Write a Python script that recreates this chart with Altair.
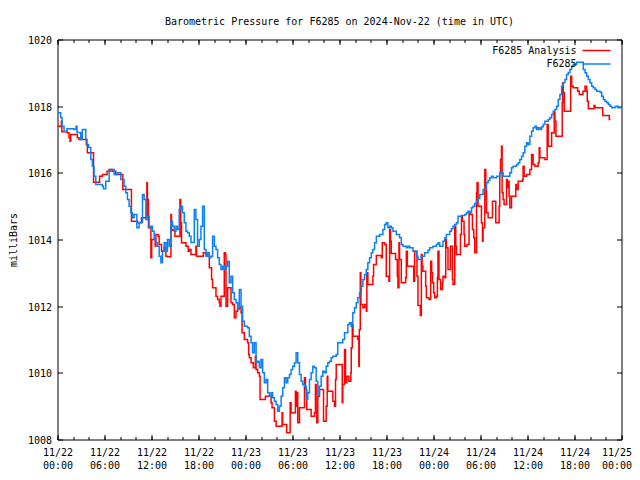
import altair as alt
import pandas as pd

title_text = "Barometric Pressure for F6285 on 2024-Nov-22 (time in UTC)"
y_title = "milliBars"
series_names = ["F6285 Analysis", "F6285"]
series_colors = ["#ff0000", "#0a80f5"]

x_major = [0, 6, 12, 18, 24, 30, 36, 42, 48, 54, 60, 66, 72]
x_minor = list(range(0, 73, 2))
y_ticks = [1008, 1010, 1012, 1014, 1016, 1018, 1020]

# F6285 Analysis (hours since 2024-11-22 00:00 UTC, millibars)
analysis_hours = [
    0.00, 0.49, 0.55, 1.25, 1.47, 1.60, 1.69, 2.53, 2.75, 3.68, 3.81, 4.60, 5.37, 5.73, 6.33, 6.59,
    6.97, 7.44, 8.34, 9.44, 10.21, 10.72, 11.41, 11.48, 11.61, 11.92, 12.02, 12.47, 12.56, 12.85, 12.98,
    13.28, 13.62, 13.84, 14.04, 14.48, 14.55, 14.68, 14.99, 15.63, 15.73, 15.83, 16.40, 16.69, 16.82,
    17.04, 17.67, 17.75, 18.61, 18.95, 19.38, 19.67, 19.80, 20.23, 20.44, 20.65, 20.74, 20.87, 21.29,
    21.42, 21.51, 21.72, 22.15, 22.36, 22.57, 22.79, 23.00, 23.43, 23.56, 23.85, 24.27, 24.40, 24.49,
    24.71, 25.00, 25.26, 25.35, 25.55, 25.77, 25.86, 26.54, 27.27, 27.39, 27.69, 27.91, 28.67, 28.75,
    29.26, 29.70, 29.82, 30.37, 30.46, 30.57, 30.67, 30.89, 31.53, 31.65, 31.82, 32.38, 32.80, 32.93,
    33.02, 33.10, 33.23, 33.44, 33.96, 34.30, 34.43, 34.51, 35.15, 35.36, 35.49, 35.58, 36.35, 36.42,
    36.64, 36.77, 36.94, 37.19, 37.45, 37.50, 37.63, 37.73, 38.34, 38.47, 38.53, 38.65, 38.73, 38.98,
    39.20, 39.42, 39.49, 39.62, 40.26, 40.35, 40.70, 41.33, 41.46, 41.76, 41.97, 42.31, 42.40, 42.52,
    42.61, 43.16, 43.38, 43.46, 43.59, 43.67, 43.89, 44.44, 44.53, 44.66, 45.47, 45.59, 45.89, 46.02,
    46.32, 46.45, 46.55, 46.65, 47.00, 47.09, 47.42, 47.64, 47.77, 47.86, 48.02, 48.15, 48.37, 48.50,
    48.57, 48.70, 48.92, 49.14, 49.21, 49.43, 49.56, 49.65, 49.85, 50.16, 50.42, 50.49, 50.71, 50.84,
    50.93, 51.44, 51.57, 51.69, 51.90, 51.99, 52.28, 52.54, 52.63, 52.97, 53.14, 53.27, 53.49, 53.56,
    53.69, 54.12, 54.25, 54.33, 54.55, 54.67, 54.76, 54.97, 55.53, 55.95, 56.38, 56.46, 56.55, 56.68,
    56.76, 56.89, 57.01, 57.32, 57.42, 57.53, 57.65, 57.74, 57.96, 58.51, 58.60, 58.81, 59.37, 59.44,
    59.57, 59.88, 60.30, 60.52, 60.72, 60.94, 61.36, 61.49, 61.58, 62.22, 62.51, 62.64, 63.08, 63.41,
    63.50, 63.63, 64.43, 64.48, 64.56, 64.69, 65.51, 65.64, 65.84, 66.40, 66.61, 67.08, 67.34, 67.55,
    67.63, 67.76, 68.49, 68.62, 69.60, 70.44, 70.60,
]
analysis_mbar = [
    1017.40, 1017.55, 1017.23, 1017.20, 1017.05, 1016.95, 1017.15, 1017.05, 1017.00, 1016.85, 1016.60,
    1015.72, 1015.90, 1015.95, 1016.05, 1016.10, 1016.05, 1015.95, 1015.50, 1014.55, 1014.50, 1014.65,
    1015.70, 1015.20, 1014.35, 1013.45, 1014.00, 1013.80, 1014.15, 1014.10, 1013.85, 1013.65, 1013.75,
    1013.50, 1013.48, 1014.75, 1014.30, 1014.28, 1014.10, 1015.20, 1014.50, 1013.90, 1013.80, 1013.65,
    1013.70, 1013.55, 1013.80, 1013.50, 1013.60, 1013.55, 1013.15, 1012.80, 1012.55, 1012.30, 1012.20,
    1012.10, 1012.00, 1012.30, 1013.60, 1013.55, 1012.00, 1012.55, 1012.10, 1012.05, 1011.65, 1011.85,
    1011.95, 1011.80, 1011.20, 1011.00, 1010.90, 1010.55, 1010.45, 1010.30, 1010.15, 1010.50, 1010.10,
    1010.00, 1009.90, 1009.20, 1009.30, 1009.10, 1008.95, 1008.55, 1008.40, 1008.80, 1008.45, 1008.20,
    1009.10, 1008.80, 1009.45, 1009.00, 1009.40, 1008.50, 1008.95, 1009.85, 1009.50, 1008.90, 1008.70,
    1008.80, 1009.65, 1008.80, 1008.50, 1009.30, 1009.50, 1008.55, 1009.00, 1009.90, 1009.45, 1009.15,
    1009.00, 1009.80, 1010.25, 1009.10, 1009.65, 1010.70, 1009.70, 1009.90, 1009.75, 1010.00, 1010.75,
    1011.45, 1011.10, 1011.00, 1010.20, 1011.30, 1013.00, 1012.05, 1011.95, 1012.05, 1011.85, 1013.00,
    1012.65, 1012.90, 1013.25, 1013.52, 1013.45, 1013.90, 1013.85, 1012.90, 1012.75, 1014.30, 1013.95,
    1013.58, 1013.40, 1012.90, 1012.55, 1013.90, 1013.40, 1012.70, 1012.85, 1013.65, 1013.20, 1012.75,
    1013.65, 1012.90, 1012.02, 1011.72, 1013.55, 1013.20, 1013.05, 1012.60, 1012.25, 1012.20, 1013.35,
    1013.00, 1012.70, 1012.40, 1012.25, 1012.30, 1012.85, 1013.65, 1012.80, 1012.50, 1012.70, 1012.90,
    1012.85, 1014.00, 1013.75, 1013.10, 1013.80, 1012.80, 1012.65, 1014.40, 1013.80, 1013.55, 1014.15,
    1014.70, 1014.55, 1014.15, 1013.80, 1013.85, 1014.80, 1014.75, 1014.30, 1014.05, 1013.60, 1015.40,
    1015.70, 1015.00, 1014.50, 1013.95, 1014.35, 1016.10, 1015.50, 1014.80, 1014.65, 1015.15, 1014.50,
    1015.00, 1016.00, 1016.40, 1016.80, 1015.40, 1015.20, 1015.05, 1015.80, 1015.55, 1015.75, 1015.30,
    1014.95, 1015.30, 1015.65, 1015.50, 1015.75, 1015.80, 1016.20, 1015.90, 1015.95, 1016.10, 1016.55,
    1016.25, 1016.20, 1016.30, 1016.75, 1016.45, 1016.40, 1017.45, 1016.80, 1017.20, 1017.80, 1017.55,
    1017.10, 1018.10, 1018.70, 1018.40, 1017.85, 1018.90, 1018.60, 1018.55, 1018.45, 1018.35, 1018.45,
    1018.60, 1018.45, 1018.15, 1017.92, 1018.02, 1017.95, 1017.72, 1017.60, 1017.60,
]

# F6285 observations (hours since 2024-11-22 00:00 UTC, millibars)
obs_hours = [
    0.00, 0.41, 0.58, 0.83, 1.21, 2.11, 2.37, 2.49, 2.97, 3.17, 3.61, 3.77, 3.96, 4.25, 4.45, 4.67,
    4.89, 5.73, 5.86, 6.16, 6.59, 6.80, 7.23, 7.65, 8.08, 8.50, 8.72, 8.93, 9.14, 9.36, 9.57, 9.78,
    10.13, 10.42, 10.85, 11.06, 11.28, 11.48, 11.70, 11.92, 12.12, 12.34, 12.56, 12.76, 12.98, 13.20,
    13.40, 13.62, 13.84, 14.04, 14.26, 14.48, 14.68, 14.90, 15.12, 15.32, 15.54, 15.76, 15.96, 16.18,
    16.40, 16.60, 16.82, 17.04, 17.46, 17.67, 17.88, 18.10, 18.31, 18.52, 18.74, 18.95, 19.16, 19.38,
    19.59, 19.80, 20.02, 20.23, 20.44, 20.65, 20.87, 21.08, 21.29, 21.51, 21.72, 21.93, 22.15, 22.36,
    22.57, 22.79, 23.00, 23.21, 23.43, 23.63, 23.85, 24.27, 24.49, 24.71, 24.91, 25.13, 25.35, 25.55,
    25.77, 25.99, 26.19, 26.41, 26.63, 26.83, 27.05, 27.27, 27.47, 27.69, 27.91, 28.11, 28.33, 28.55,
    28.75, 28.97, 29.18, 29.39, 29.61, 29.82, 30.03, 30.25, 30.46, 30.67, 30.89, 31.10, 31.31, 31.53,
    31.74, 31.95, 32.17, 32.38, 32.59, 32.80, 33.02, 33.23, 33.44, 33.66, 33.87, 34.08, 34.30, 34.51,
    34.72, 34.94, 35.15, 35.58, 35.78, 36.00, 36.42, 36.64, 37.06, 37.28, 37.50, 37.70, 37.92, 38.14,
    38.34, 38.56, 38.78, 38.98, 39.20, 39.42, 39.62, 39.84, 40.06, 40.26, 40.48, 40.70, 41.12, 41.54,
    41.76, 41.97, 42.18, 42.40, 42.61, 42.82, 43.25, 43.67, 43.89, 44.10, 44.53, 44.74, 44.96, 45.38,
    45.81, 46.02, 46.23, 46.45, 46.87, 47.30, 47.51, 47.93, 48.37, 48.57, 48.79, 49.01, 49.21, 49.43,
    49.65, 50.07, 50.29, 50.49, 50.71, 50.93, 51.13, 51.57, 51.99, 52.21, 52.41, 52.63, 52.85, 53.05,
    53.27, 53.49, 53.69, 53.91, 54.33, 54.76, 54.97, 55.19, 55.40, 55.61, 56.04, 56.46, 56.89, 57.32,
    57.74, 57.96, 58.17, 58.60, 58.81, 59.02, 59.24, 59.44, 59.66, 59.88, 60.08, 60.30, 60.52, 60.72,
    60.94, 61.16, 61.36, 61.58, 61.80, 62.00, 62.22, 62.44, 62.64, 62.86, 63.08, 63.28, 63.50, 63.72,
    63.92, 64.14, 64.36, 64.56, 64.78, 64.99, 65.20, 65.42, 65.64, 65.84, 66.27, 66.70, 66.92, 67.12,
    67.34, 67.55, 67.76, 67.98, 68.19, 68.40, 68.62, 68.83, 69.26, 69.47, 69.68, 69.89, 70.11, 70.32,
    70.53, 70.75, 70.96, 71.17, 71.39, 71.59, 71.81, 72.00,
]
obs_mbar = [
    1017.80, 1017.66, 1017.40, 1017.25, 1017.32, 1017.30, 1017.40, 1017.21, 1017.00, 1017.30, 1017.00,
    1016.85, 1016.76, 1016.40, 1016.20, 1015.90, 1015.65, 1015.60, 1015.52, 1015.75, 1016.05, 1016.10,
    1015.95, 1016.00, 1015.80, 1015.60, 1015.40, 1015.20, 1015.00, 1014.80, 1014.65, 1014.75, 1014.35,
    1014.51, 1015.35, 1015.20, 1014.60, 1014.70, 1014.35, 1014.40, 1014.25, 1014.00, 1013.90, 1013.80,
    1013.50, 1013.30, 1013.65, 1013.90, 1013.65, 1014.00, 1013.80, 1014.55, 1014.40, 1014.25, 1014.40,
    1014.30, 1014.90, 1015.00, 1014.80, 1014.50, 1014.25, 1014.20, 1014.10, 1013.91, 1014.90, 1014.60,
    1013.80, 1014.00, 1014.40, 1015.00, 1013.70, 1013.50, 1013.60, 1013.45, 1013.50, 1014.10, 1013.80,
    1013.70, 1013.45, 1013.25, 1013.10, 1013.20, 1013.10, 1013.20, 1013.35, 1012.70, 1012.90, 1012.40,
    1012.20, 1012.10, 1011.90, 1012.50, 1012.00, 1011.55, 1011.40, 1011.35, 1011.10, 1010.90, 1010.60,
    1010.90, 1010.30, 1010.35, 1010.15, 1010.40, 1010.00, 1009.70, 1009.80, 1009.40, 1009.30, 1009.40,
    1009.25, 1009.15, 1009.05, 1008.85, 1009.00, 1009.30, 1009.55, 1009.85, 1009.70, 1009.85, 1009.95,
    1010.10, 1010.20, 1010.30, 1010.60, 1010.30, 1009.95, 1009.75, 1009.65, 1009.60, 1009.20, 1009.40,
    1009.80, 1010.00, 1010.20, 1010.15, 1009.75, 1009.35, 1009.60, 1009.90, 1010.05, 1010.00, 1010.20,
    1010.30, 1010.35, 1010.45, 1010.50, 1010.55, 1010.90, 1010.90, 1011.00, 1011.20, 1011.45, 1011.50,
    1011.40, 1011.80, 1011.95, 1012.10, 1012.25, 1012.40, 1012.60, 1012.80, 1012.95, 1013.10, 1013.30,
    1013.45, 1013.60, 1013.70, 1013.90, 1014.10, 1014.15, 1014.30, 1014.45, 1014.50, 1014.35, 1014.40,
    1014.35, 1014.25, 1014.15, 1014.05, 1013.85, 1013.80, 1013.75, 1013.80, 1013.75, 1013.65, 1013.50,
    1013.40, 1013.40, 1013.50, 1013.60, 1013.68, 1013.75, 1013.80, 1013.85, 1013.90, 1013.80, 1013.80,
    1013.95, 1014.05, 1014.15, 1014.25, 1014.32, 1014.40, 1014.45, 1014.50, 1014.70, 1014.72, 1014.75,
    1014.80, 1014.85, 1014.80, 1014.95, 1015.00, 1015.08, 1015.15, 1015.23, 1015.35, 1015.50, 1015.70,
    1015.77, 1015.85, 1015.90, 1015.85, 1015.90, 1016.00, 1015.90, 1015.90, 1016.00, 1016.15, 1016.20,
    1016.25, 1016.30, 1016.40, 1016.50, 1016.60, 1016.80, 1016.90, 1016.85, 1017.10, 1017.25, 1017.35,
    1017.40, 1017.30, 1017.35, 1017.30, 1017.38, 1017.45, 1017.55, 1017.55, 1017.60, 1017.65, 1017.75,
    1017.85, 1017.90, 1018.00, 1018.20, 1018.35, 1018.60, 1018.70, 1018.80, 1018.95, 1019.01, 1019.10,
    1019.20, 1019.25, 1019.32, 1019.32, 1019.32, 1019.10, 1019.00, 1018.90, 1018.80, 1018.70, 1018.60,
    1018.55, 1018.50, 1018.45, 1018.42, 1018.30, 1018.20, 1018.15, 1018.10, 1018.05, 1018.00, 1017.95,
    1017.95, 1017.99, 1018.00, 1017.95, 1017.95, 1017.95,
]

FONT = "DejaVu Sans Mono"
FS = 10

analysis_df = pd.DataFrame({"hours": analysis_hours, "mbar": analysis_mbar, "series": series_names[0]})
obs_df = pd.DataFrame({"hours": obs_hours, "mbar": obs_mbar, "series": series_names[1]})

xscale = alt.Scale(domain=[0, 72], nice=False, zero=False)
yscale = alt.Scale(domain=[1008, 1020], nice=False, zero=False)


def make_axis(orient, values, size, labels=False, **kw):
    return alt.Axis(
        orient=orient, values=values, tickSize=size, offset=-size, labels=labels,
        domain=False, grid=False, ticks=True, tickColor="black", tickWidth=1,
        labelFont=FONT, labelFontSize=FS, labelColor="black", **kw
    )


label_expr = ("['11/' + (22 + floor(datum.value / 24)), "
              "(datum.value % 24 < 10 ? '0' : '') + (datum.value % 24) + ':00']")

x_bottom = make_axis(
    "bottom", x_major, 5, labels=True, title=None, labelExpr=label_expr,
    labelPadding=8, labelLineHeight=13.3, labelOverlap=False, labelFlush=False, labelBound=False,
    labelAlign={"condition": {"test": "datum.value === 72", "value": "right"}, "value": "center"},
    labelOffset={"condition": {"test": "datum.value === 72", "value": 10}, "value": 0},
)
x_top = make_axis("top", x_major, 5, title=None)
x_bottom_minor = make_axis("bottom", x_minor, 3, title=None)
x_top_minor = make_axis("top", x_minor, 3, title=None)
y_left = make_axis("left", y_ticks, 5, labels=True, title=y_title, labelPadding=6, format="d",
                   labelOffset=1, titleFont=FONT, titleFontSize=FS, titleFontWeight="normal",
                   titleColor="black", titlePadding=8.5)
y_right = make_axis("right", y_ticks, 5, title=None)

color = alt.Color(
    "series:N",
    scale=alt.Scale(domain=series_names, range=series_colors),
    legend=alt.Legend(
        title=None, orient="none", legendX=524, legendY=5, padding=0, offset=0,
        symbolType="M-1,0H4.6", symbolSize=100, symbolStrokeWidth=1.5,
        labelAlign="right", labelOffset={"expr": "-17"}, labelFont=FONT, labelFontSize=FS,
        labelColor="black", rowPadding=2.5, labelLimit=300,
    ),
)

red_layer = alt.Chart(analysis_df).mark_line(interpolate="step-after", strokeWidth=1.5).encode(
    x=alt.X("hours:Q", scale=xscale, axis=x_top),
    y=alt.Y("mbar:Q", scale=yscale, axis=y_right),
    color=color,
)
blue_layer = alt.Chart(obs_df).mark_line(interpolate="step-after", strokeWidth=1.5).encode(
    x=alt.X("hours:Q", scale=xscale, axis=x_bottom),
    y=alt.Y("mbar:Q", scale=yscale, axis=y_left),
    color=color,
)
minor_bottom = alt.Chart(obs_df).mark_line(opacity=0).encode(
    x=alt.X("hours:Q", scale=xscale, axis=x_bottom_minor),
    y=alt.Y("mbar:Q", scale=yscale, axis=None),
)
minor_top = alt.Chart(obs_df).mark_line(opacity=0).encode(
    x=alt.X("hours:Q", scale=xscale, axis=x_top_minor),
    y=alt.Y("mbar:Q", scale=yscale, axis=None),
)

chart = (
    alt.layer(red_layer, blue_layer, minor_bottom, minor_top)
    .resolve_scale(x="independent", y="independent")
    .properties(
        width=564, height=400,
        title=alt.TitleParams(title_text, font=FONT, fontSize=FS, fontWeight="normal",
                              color="black", anchor="middle", frame="group",
                              baseline="alphabetic", offset=1),
        autosize=alt.AutoSizeParams(type="none"),
        padding={"left": 49.5, "top": 31.5, "right": 10.5, "bottom": 32.5},
        background="white",
    )
    .configure_view(stroke="black", strokeWidth=1)
)

chart.save("out.html", embed_options={"renderer": "svg", "actions": False})
